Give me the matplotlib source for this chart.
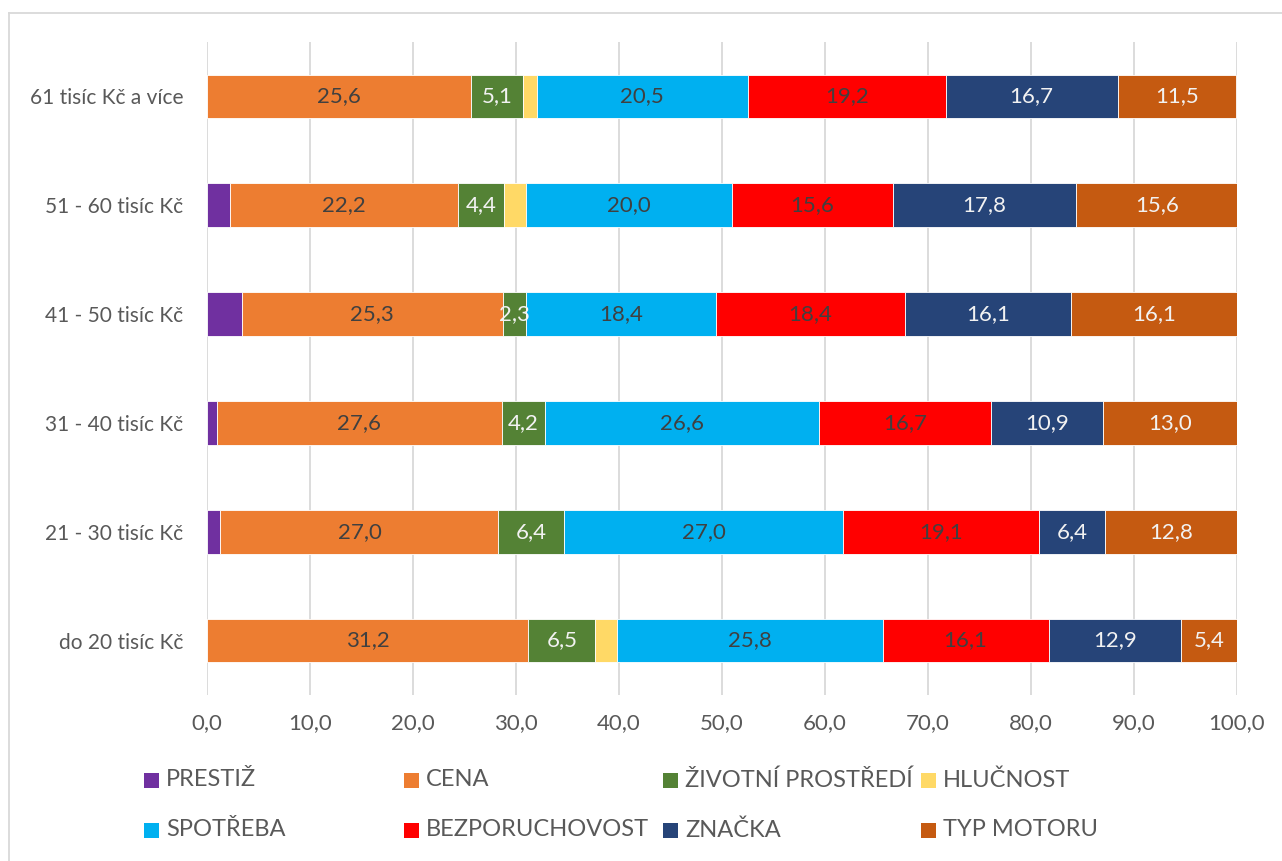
import matplotlib
matplotlib.use("Agg")
import matplotlib.pyplot as plt
from matplotlib.patches import Rectangle
from matplotlib.lines import Line2D

# Kategorie (odspodu nahoru) a hodnoty jednotlivých řad v %
categories = ["do 20 tisíc Kč", "21 - 30 tisíc Kč", "31 - 40 tisíc Kč",
              "41 - 50 tisíc Kč", "51 - 60 tisíc Kč", "61 tisíc Kč a více"]
series_names = ["PRESTIŽ", "CENA", "ŽIVOTNÍ PROSTŘEDÍ", "HLUČNOST",
                "SPOTŘEBA", "BEZPORUCHOVOST", "ZNAČKA", "TYP MOTORU"]
prestiz = [0.0, 1.3, 1.0, 3.4, 2.2, 0.0]
cena = [31.2, 27.0, 27.6, 25.3, 22.2, 25.6]
zivotni = [6.5, 6.4, 4.2, 2.3, 4.4, 5.1]
hlucnost = [2.1, 0.0, 0.0, 0.0, 2.2, 1.3]
spotreba = [25.8, 27.0, 26.6, 18.4, 20.0, 20.5]
bezporuch = [16.1, 19.1, 16.7, 18.4, 15.6, 19.2]
znacka = [12.9, 6.4, 10.9, 16.1, 17.8, 16.7]
typ_motoru = [5.4, 12.8, 13.0, 16.1, 15.6, 11.5]
xticks = [0, 10, 20, 30, 40, 50, 60, 70, 80, 90, 100]

series = [prestiz, cena, zivotni, hlucnost, spotreba, bezporuch, znacka, typ_motoru]
colors = ["#7030A0", "#ED7D31", "#548235", "#FFD966",
          "#00B0F0", "#FF0000", "#264478", "#C55A11"]
label_colors = [None, "#404040", "#F2F2F2", None,
                "#404040", "#404040", "#F2F2F2", "#F2F2F2"]

plt.rcParams["font.family"] = ["Lato", "DejaVu Sans"]
TEXT = "#595959"

W, H = 1282, 861
fig = plt.figure(figsize=(W / 100, H / 100), dpi=100)
ax = fig.add_axes([207 / W, 1 - 695 / H, (1237 - 207) / W, (695 - 42) / H])

ypos = list(range(len(categories)))
left = [0.0] * len(categories)
for vals, col, lcol in zip(series, colors, label_colors):
    ax.barh(ypos, vals, left=left, height=0.40, color=col,
            edgecolor="white", linewidth=0.6, zorder=2)
    if lcol is not None:
        for y, v, l in zip(ypos, vals, left):
            if v >= 2.0:
                ax.text(l + v / 2, y, f"{v:.1f}".replace(".", ","),
                        ha="center", va="center", fontsize=16, color=lcol, zorder=3)
    left = [l + v for l, v in zip(left, vals)]

ax.set_xlim(0, 100)
ax.set_ylim(-0.5, len(categories) - 0.5)
ax.set_xticks(xticks)
ax.set_xticklabels([f"{t:.1f}".replace(".", ",") for t in xticks], fontsize=16)
ax.set_yticks(ypos)
ax.set_yticklabels(categories, fontsize=15)
ax.tick_params(axis="both", length=0, labelcolor=TEXT)
ax.tick_params(axis="x", pad=13)
ax.tick_params(axis="y", pad=17)
ax.grid(axis="x", color="#D9D9D9", linewidth=1.3, zorder=0)
ax.set_axisbelow(True)
for s in ax.spines.values():
    s.set_visible(False)

# Legenda ve dvou řádcích
col_x = [144, 404, 663, 921]
row_y = [780, 830]
for i, (name, col) in enumerate(zip(series_names, colors)):
    x = col_x[i % 4]
    y = row_y[i // 4]
    fig.patches.append(Rectangle((x / W, 1 - (y + 8) / H), 15 / W, 15 / H,
                                 transform=fig.transFigure, facecolor=col,
                                 edgecolor="none"))
    fig.text((x + 22) / W, 1 - y / H, name, ha="left", va="center",
             fontsize=17, color=TEXT)

# Rámeček grafu (viditelný horní a levý okraj)
fig.add_artist(Line2D([9 / W, 9 / W], [0, 1 - 13 / H], transform=fig.transFigure,
                      color="#D9D9D9", linewidth=1.3))
fig.add_artist(Line2D([9 / W, 1], [1 - 13 / H, 1 - 13 / H], transform=fig.transFigure,
                      color="#D9D9D9", linewidth=1.3))

fig.savefig("out.png", dpi=100, facecolor="white")
